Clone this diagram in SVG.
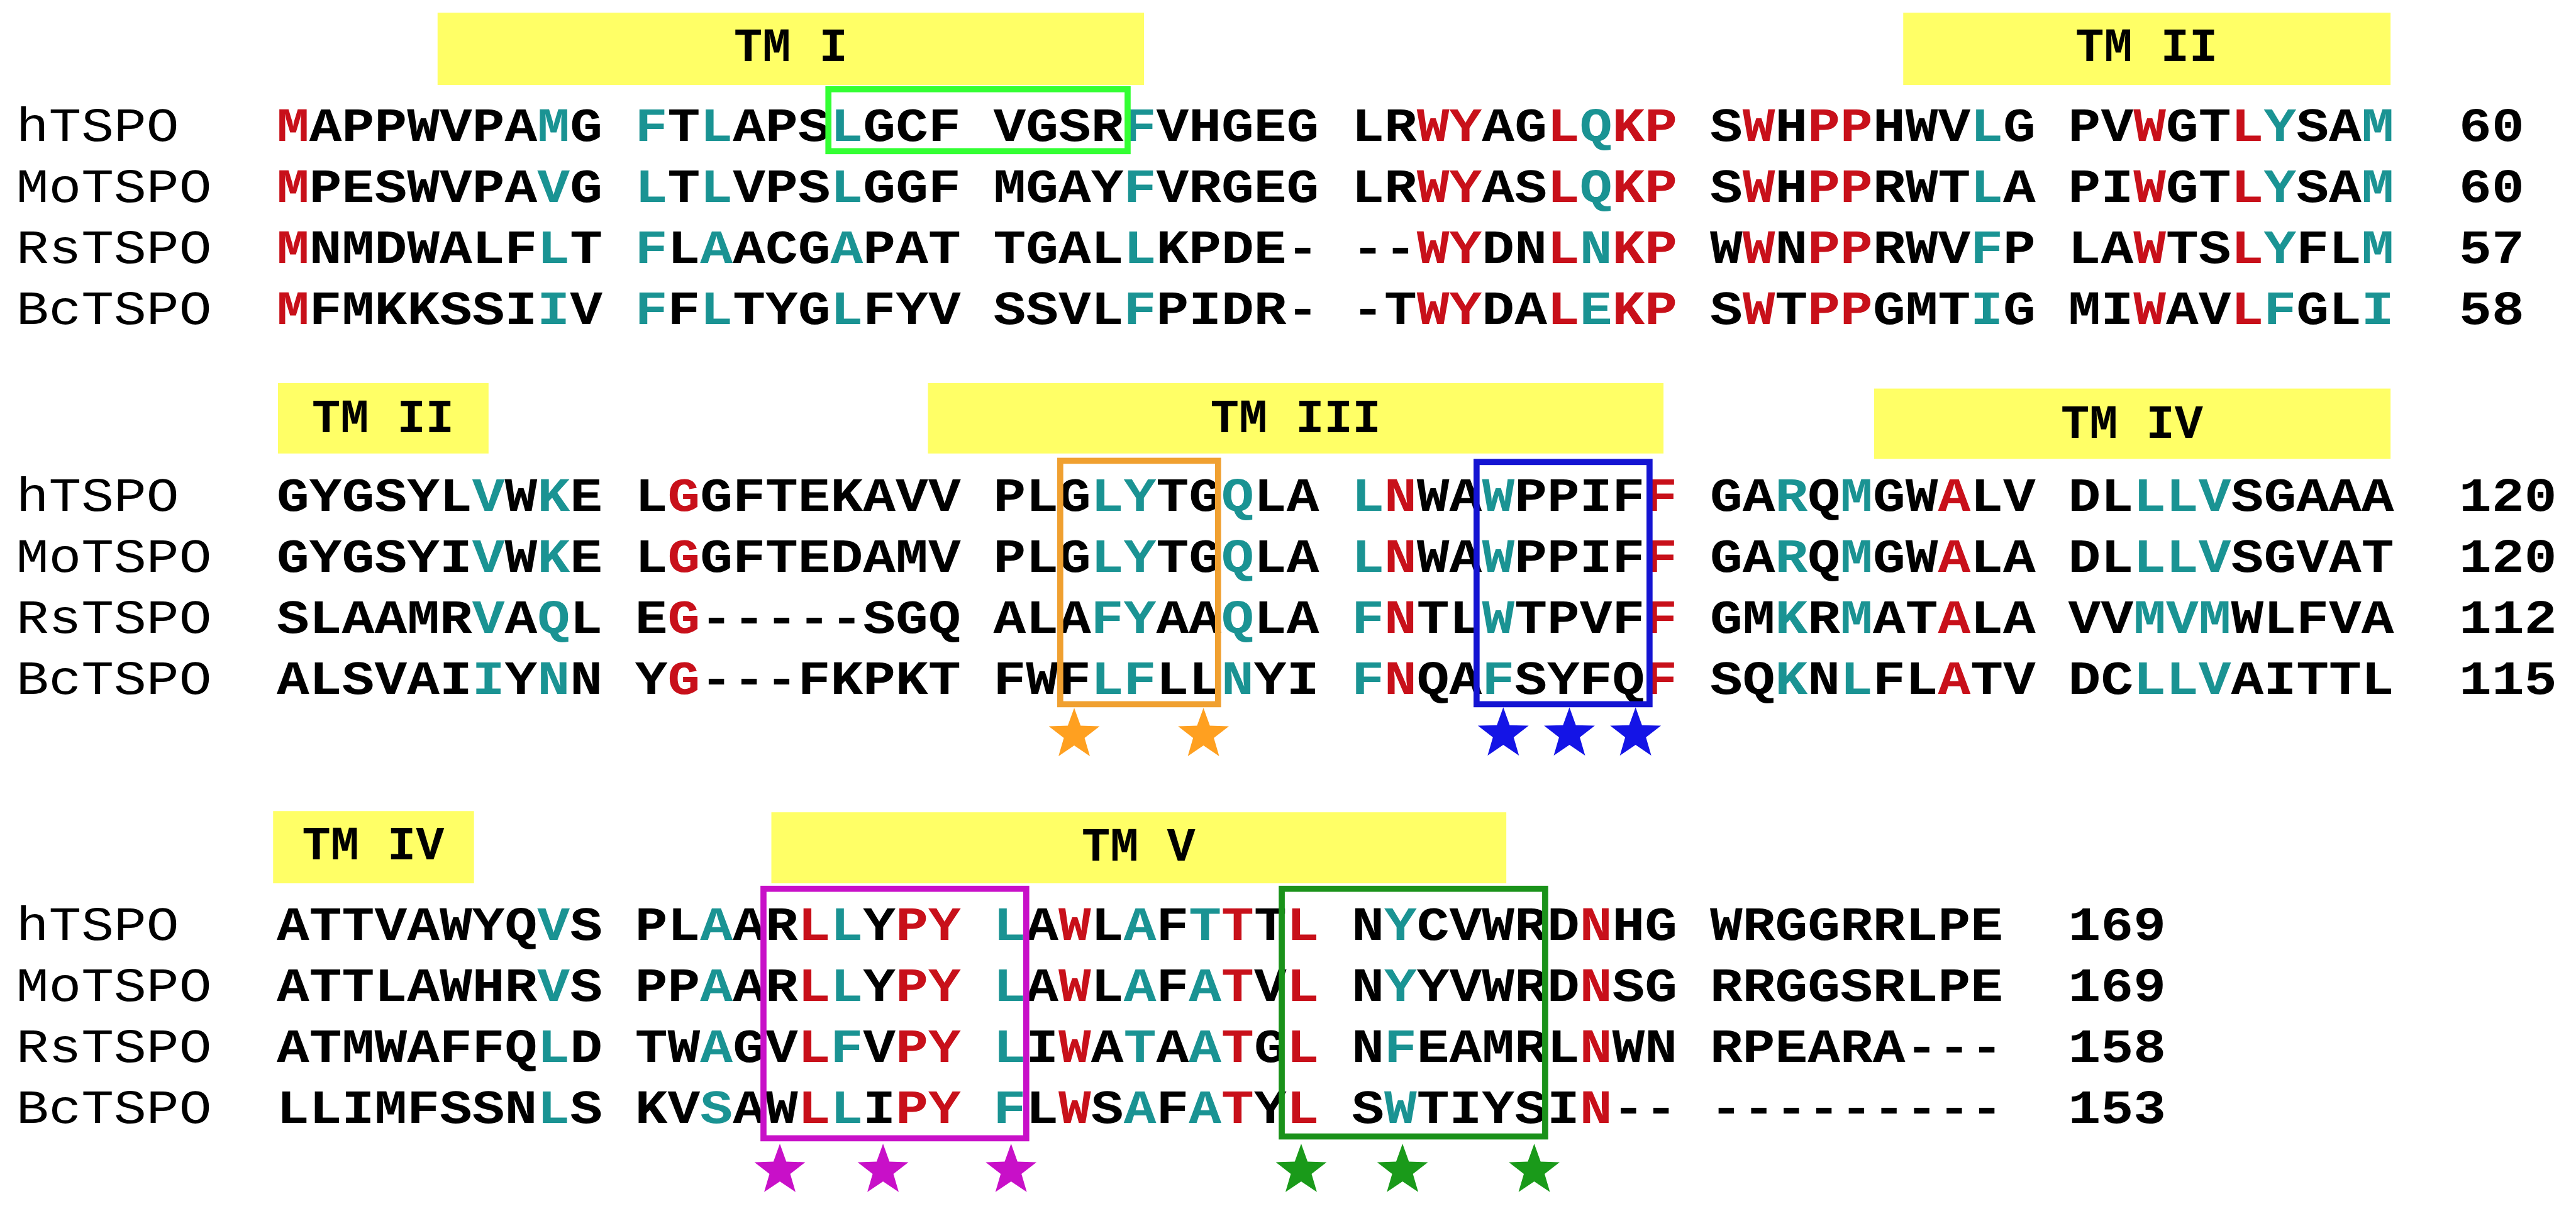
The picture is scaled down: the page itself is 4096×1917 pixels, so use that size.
<svg xmlns="http://www.w3.org/2000/svg" xmlns:xlink="http://www.w3.org/1999/xlink" width="4096" height="1917" viewBox="0 0 4096 1917">
<style>
.seq{font-family:"Liberation Mono",monospace;font-size:79px;font-weight:bold;fill:#000}
.nm{font-weight:normal}
.r{fill:#c8101a}
.t{fill:#1a9393}
.tm{font-family:"Liberation Mono",monospace;font-size:78px;font-weight:bold;text-anchor:middle;fill:#000}
.bar{fill:#ffff66}
.box{fill:none;stroke-width:10}
</style>
<defs>
<path id="star" d="M0,-44 L10.58,-14.56 L41.85,-13.6 L17.12,5.56 L25.86,35.6 L0,18 L-25.86,35.6 L-17.12,5.56 L-41.85,-13.6 L-10.58,-14.56Z"/>
</defs>
<rect width="4096" height="1917" fill="#fff"/>
<g transform="scale(0.965)">
<g id="bars">
<rect class="bar" x="721" y="21" width="1164" height="119"/>
<text class="tm" x="1303" y="101">TM I</text>
<rect class="bar" x="3136" y="21" width="803" height="119"/>
<text class="tm" x="3537" y="101">TM II</text>
<rect class="bar" x="458" y="631" width="347" height="116"/>
<text class="tm" x="631" y="712">TM II</text>
<rect class="bar" x="1529" y="631" width="1212" height="116"/>
<text class="tm" x="2135" y="712">TM III</text>
<rect class="bar" x="3088" y="640" width="851" height="116"/>
<text class="tm" x="3513" y="721">TM IV</text>
<rect class="bar" x="450" y="1336" width="331" height="119"/>
<text class="tm" x="615" y="1416">TM IV</text>
<rect class="bar" x="1271" y="1338" width="1211" height="117"/>
<text class="tm" x="1876" y="1418">TM V</text>
</g>
<g id="block1" class="seq" transform="scale(1.1323 1)">
<text y="232"><tspan class="nm" x="23.5">hTSPO</tspan><tspan x="402.7"><tspan class="r">M</tspan>APPWVPA<tspan class="t">M</tspan>G</tspan><tspan x="924.1"><tspan class="t">F</tspan>T<tspan class="t">L</tspan>APS<tspan class="t">L</tspan>GCF</tspan><tspan x="1445.5">VGSR<tspan class="t">F</tspan>VHGEG</tspan><tspan x="1966.9">LR<tspan class="r">WY</tspan>AG<tspan class="r">L</tspan><tspan class="t">Q</tspan><tspan class="r">KP</tspan></tspan><tspan x="2488.3">S<tspan class="r">W</tspan>H<tspan class="r">PP</tspan>HWV<tspan class="t">L</tspan>G</tspan><tspan x="3009.7">PV<tspan class="r">W</tspan>GT<tspan class="r">L</tspan><tspan class="t">Y</tspan>SA<tspan class="t">M</tspan></tspan><tspan x="3578.5">60</tspan></text>
<text y="332.5"><tspan class="nm" x="23.5">MoTSPO</tspan><tspan x="402.7"><tspan class="r">M</tspan>PESWVPA<tspan class="t">V</tspan>G</tspan><tspan x="924.1"><tspan class="t">L</tspan>T<tspan class="t">L</tspan>VPS<tspan class="t">L</tspan>GGF</tspan><tspan x="1445.5">MGAY<tspan class="t">F</tspan>VRGEG</tspan><tspan x="1966.9">LR<tspan class="r">WY</tspan>AS<tspan class="r">L</tspan><tspan class="t">Q</tspan><tspan class="r">KP</tspan></tspan><tspan x="2488.3">S<tspan class="r">W</tspan>H<tspan class="r">PP</tspan>RWT<tspan class="t">L</tspan>A</tspan><tspan x="3009.7">PI<tspan class="r">W</tspan>GT<tspan class="r">L</tspan><tspan class="t">Y</tspan>SA<tspan class="t">M</tspan></tspan><tspan x="3578.5">60</tspan></text>
<text y="433"><tspan class="nm" x="23.5">RsTSPO</tspan><tspan x="402.7"><tspan class="r">M</tspan>NMDWALF<tspan class="t">L</tspan>T</tspan><tspan x="924.1"><tspan class="t">F</tspan>L<tspan class="t">A</tspan>ACG<tspan class="t">A</tspan>PAT</tspan><tspan x="1445.5">TGAL<tspan class="t">L</tspan>KPDE-</tspan><tspan x="1966.9">--<tspan class="r">WY</tspan>DN<tspan class="r">L</tspan><tspan class="t">N</tspan><tspan class="r">KP</tspan></tspan><tspan x="2488.3">W<tspan class="r">W</tspan>N<tspan class="r">PP</tspan>RWV<tspan class="t">F</tspan>P</tspan><tspan x="3009.7">LA<tspan class="r">W</tspan>TS<tspan class="r">L</tspan><tspan class="t">Y</tspan>FL<tspan class="t">M</tspan></tspan><tspan x="3578.5">57</tspan></text>
<text y="533.5"><tspan class="nm" x="23.5">BcTSPO</tspan><tspan x="402.7"><tspan class="r">M</tspan>FMKKSSI<tspan class="t">I</tspan>V</tspan><tspan x="924.1"><tspan class="t">F</tspan>F<tspan class="t">L</tspan>TYG<tspan class="t">L</tspan>FYV</tspan><tspan x="1445.5">SSVL<tspan class="t">F</tspan>PIDR-</tspan><tspan x="1966.9">-T<tspan class="r">WY</tspan>DA<tspan class="r">L</tspan><tspan class="t">E</tspan><tspan class="r">KP</tspan></tspan><tspan x="2488.3">S<tspan class="r">W</tspan>T<tspan class="r">PP</tspan>GMT<tspan class="t">I</tspan>G</tspan><tspan x="3009.7">MI<tspan class="r">W</tspan>AV<tspan class="r">L</tspan><tspan class="t">F</tspan>GL<tspan class="t">I</tspan></tspan><tspan x="3578.5">58</tspan></text>
</g>
<g id="block2" class="seq" transform="scale(1.1323 1)">
<text y="841"><tspan class="nm" x="23.5">hTSPO</tspan><tspan x="402.7">GYGSYL<tspan class="t">V</tspan>W<tspan class="t">K</tspan>E</tspan><tspan x="924.1">L<tspan class="r">G</tspan>GFTEKAVV</tspan><tspan x="1445.5">PLG<tspan class="t">LY</tspan>TG<tspan class="t">Q</tspan>LA</tspan><tspan x="1966.9"><tspan class="t">L</tspan><tspan class="r">N</tspan>WA<tspan class="t">W</tspan>PPIF<tspan class="r">F</tspan></tspan><tspan x="2488.3">GA<tspan class="t">R</tspan>Q<tspan class="t">M</tspan>GW<tspan class="r">A</tspan>LV</tspan><tspan x="3009.7">DL<tspan class="t">LLV</tspan>SGAAA</tspan><tspan x="3578.5">120</tspan></text>
<text y="941.5"><tspan class="nm" x="23.5">MoTSPO</tspan><tspan x="402.7">GYGSYI<tspan class="t">V</tspan>W<tspan class="t">K</tspan>E</tspan><tspan x="924.1">L<tspan class="r">G</tspan>GFTEDAMV</tspan><tspan x="1445.5">PLG<tspan class="t">LY</tspan>TG<tspan class="t">Q</tspan>LA</tspan><tspan x="1966.9"><tspan class="t">L</tspan><tspan class="r">N</tspan>WA<tspan class="t">W</tspan>PPIF<tspan class="r">F</tspan></tspan><tspan x="2488.3">GA<tspan class="t">R</tspan>Q<tspan class="t">M</tspan>GW<tspan class="r">A</tspan>LA</tspan><tspan x="3009.7">DL<tspan class="t">LLV</tspan>SGVAT</tspan><tspan x="3578.5">120</tspan></text>
<text y="1042"><tspan class="nm" x="23.5">RsTSPO</tspan><tspan x="402.7">SLAAMR<tspan class="t">V</tspan>A<tspan class="t">Q</tspan>L</tspan><tspan x="924.1">E<tspan class="r">G</tspan>-----SGQ</tspan><tspan x="1445.5">ALA<tspan class="t">FY</tspan>AA<tspan class="t">Q</tspan>LA</tspan><tspan x="1966.9"><tspan class="t">F</tspan><tspan class="r">N</tspan>TL<tspan class="t">W</tspan>TPVF<tspan class="r">F</tspan></tspan><tspan x="2488.3">GM<tspan class="t">K</tspan>R<tspan class="t">M</tspan>AT<tspan class="r">A</tspan>LA</tspan><tspan x="3009.7">VV<tspan class="t">MVM</tspan>WLFVA</tspan><tspan x="3578.5">112</tspan></text>
<text y="1142.5"><tspan class="nm" x="23.5">BcTSPO</tspan><tspan x="402.7">ALSVAI<tspan class="t">I</tspan>Y<tspan class="t">N</tspan>N</tspan><tspan x="924.1">Y<tspan class="r">G</tspan>---FKPKT</tspan><tspan x="1445.5">FWF<tspan class="t">LF</tspan>LL<tspan class="t">N</tspan>YI</tspan><tspan x="1966.9"><tspan class="t">F</tspan><tspan class="r">N</tspan>QA<tspan class="t">F</tspan>SYFQ<tspan class="r">F</tspan></tspan><tspan x="2488.3">SQ<tspan class="t">K</tspan>N<tspan class="t">L</tspan>FL<tspan class="r">A</tspan>TV</tspan><tspan x="3009.7">DC<tspan class="t">LLV</tspan>AITTL</tspan><tspan x="3578.5">115</tspan></text>
</g>
<g id="block3" class="seq" transform="scale(1.1323 1)">
<text y="1548"><tspan class="nm" x="23.5">hTSPO</tspan><tspan x="402.7">ATTVAWYQ<tspan class="t">V</tspan>S</tspan><tspan x="924.1">PL<tspan class="t">A</tspan>AR<tspan class="r">L</tspan><tspan class="t">L</tspan>Y<tspan class="r">PY</tspan></tspan><tspan x="1445.5"><tspan class="t">L</tspan>A<tspan class="r">W</tspan>L<tspan class="t">A</tspan>F<tspan class="t">T</tspan><tspan class="r">T</tspan>T<tspan class="r">L</tspan></tspan><tspan x="1966.9">N<tspan class="t">Y</tspan>CVWRD<tspan class="r">N</tspan>HG</tspan><tspan x="2488.3">WRGGRRLPE</tspan><tspan x="3009.7">169</tspan></text>
<text y="1648.5"><tspan class="nm" x="23.5">MoTSPO</tspan><tspan x="402.7">ATTLAWHR<tspan class="t">V</tspan>S</tspan><tspan x="924.1">PP<tspan class="t">A</tspan>AR<tspan class="r">L</tspan><tspan class="t">L</tspan>Y<tspan class="r">PY</tspan></tspan><tspan x="1445.5"><tspan class="t">L</tspan>A<tspan class="r">W</tspan>L<tspan class="t">A</tspan>F<tspan class="t">A</tspan><tspan class="r">T</tspan>V<tspan class="r">L</tspan></tspan><tspan x="1966.9">N<tspan class="t">Y</tspan>YVWRD<tspan class="r">N</tspan>SG</tspan><tspan x="2488.3">RRGGSRLPE</tspan><tspan x="3009.7">169</tspan></text>
<text y="1749"><tspan class="nm" x="23.5">RsTSPO</tspan><tspan x="402.7">ATMWAFFQ<tspan class="t">L</tspan>D</tspan><tspan x="924.1">TW<tspan class="t">A</tspan>GV<tspan class="r">L</tspan><tspan class="t">F</tspan>V<tspan class="r">PY</tspan></tspan><tspan x="1445.5"><tspan class="t">L</tspan>I<tspan class="r">W</tspan>A<tspan class="t">T</tspan>A<tspan class="t">A</tspan><tspan class="r">T</tspan>G<tspan class="r">L</tspan></tspan><tspan x="1966.9">N<tspan class="t">F</tspan>EAMRL<tspan class="r">N</tspan>WN</tspan><tspan x="2488.3">RPEARA---</tspan><tspan x="3009.7">158</tspan></text>
<text y="1849.5"><tspan class="nm" x="23.5">BcTSPO</tspan><tspan x="402.7">LLIMFSSN<tspan class="t">L</tspan>S</tspan><tspan x="924.1">KV<tspan class="t">S</tspan>AW<tspan class="r">L</tspan><tspan class="t">L</tspan>I<tspan class="r">PY</tspan></tspan><tspan x="1445.5"><tspan class="t">F</tspan>L<tspan class="r">W</tspan>S<tspan class="t">A</tspan>F<tspan class="t">A</tspan><tspan class="r">T</tspan>Y<tspan class="r">L</tspan></tspan><tspan x="1966.9">S<tspan class="t">W</tspan>TIYSI<tspan class="r">N</tspan>--</tspan><tspan x="2488.3">---------</tspan><tspan x="3009.7">153</tspan></text>
</g>
<g id="boxes">
<rect class="box" x="1365" y="147" width="493" height="102" stroke="#33ff33" stroke-width="12"/>
<rect class="box" x="1747" y="759" width="260" height="401" stroke="#f0a030"/>
<rect class="box" x="2433" y="761" width="285" height="399" stroke="#1414d2"/>
<rect class="box" x="1258" y="1464" width="433" height="411" stroke="#c810c8"/>
<rect class="box" x="2112" y="1464" width="434" height="408" stroke="#1a921a"/>
</g>
<g id="stars">
<use xlink:href="#star" transform="translate(1770,1210)" fill="#ffa020"/>
<use xlink:href="#star" transform="translate(1983,1210)" fill="#ffa020"/>
<use xlink:href="#star" transform="translate(2477,1209)" fill="#1414e6"/>
<use xlink:href="#star" transform="translate(2586,1209)" fill="#1414e6"/>
<use xlink:href="#star" transform="translate(2695,1209)" fill="#1414e6"/>
<use xlink:href="#star" transform="translate(1285,1928)" fill="#c810c8"/>
<use xlink:href="#star" transform="translate(1455,1928)" fill="#c810c8"/>
<use xlink:href="#star" transform="translate(1666,1928)" fill="#c810c8"/>
<use xlink:href="#star" transform="translate(2144,1928)" fill="#1a9a1a"/>
<use xlink:href="#star" transform="translate(2311,1928)" fill="#1a9a1a"/>
<use xlink:href="#star" transform="translate(2528,1928)" fill="#1a9a1a"/>
</g>
</g>
</svg>
